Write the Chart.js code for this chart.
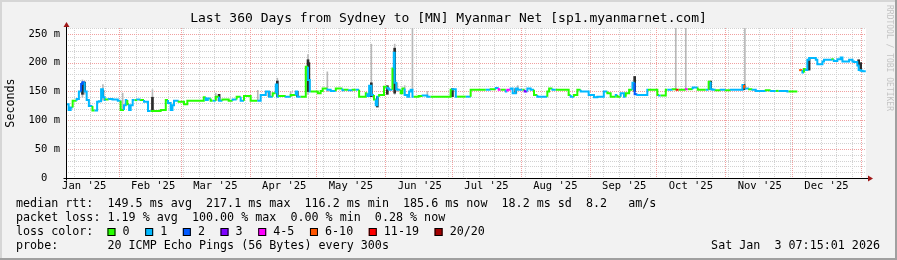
<!DOCTYPE html>
<html>
<head>
<meta charset="utf-8">
<script src="https://cdn.jsdelivr.net/npm/chart.js@4.4.1/dist/chart.umd.min.js"></script>
<style>
html, body { margin: 0; padding: 0; background: #f2f2f2; }
canvas { display: block; }
</style>
</head>
<body>
<canvas id="smoke" width="897" height="260"></canvas>
<script>
// x values are days since 1 Jan 2025 (window = last 360 days up to 3 Jan 2026 07:15)
const rangeStart = 7.3, rangeEnd = 367.3;
const monthStarts = [0, 31, 59, 90, 120, 151, 181, 212, 243, 273, 304, 334, 365];
const monthLabels = ["Jan '25", "Feb '25", "Mar '25", "Apr '25", "May '25", "Jun '25",
                     "Jul '25", "Aug '25", "Sep '25", "Oct '25", "Nov '25", "Dec '25"];
const yTicks = [0, 50, 100, 150, 200, 250];

// median rtt (ms) and loss class per sample
const medDays = [
  7.3, 8.5, 9.4, 10.3, 10.9, 12.1, 13.1, 14.1, 14.7, 15.7,
  16.6, 17.6, 19.2, 20.2, 21.3, 22.1, 23.1, 23.9, 24.7, 25.2,
  26.5, 28.2, 30.6, 31.9, 33.4, 34.2, 34.9, 35.7, 36.4, 37.3,
  38.2, 39.4, 40.9, 42.4, 44.2, 45.4, 47.7, 49.9, 52.2, 53.2,
  54.4, 55.2, 55.9, 56.7, 58.0, 60.4, 61.9, 63.4, 65.7, 67.9,
  69.3, 70.2, 71.1, 72.4, 73.3, 74.7, 76.2, 77.7, 80.5, 82.3,
  84.1, 85.9, 87.4, 88.2, 90.4, 93.4, 94.9, 97.2, 98.7, 99.4,
  100.3, 101.7, 102.4, 103.2, 106.2, 108.4, 110.7, 111.4, 112.9, 115.2,
  116.2, 117.0, 117.4, 120.6, 121.9, 122.8, 124.9, 126.4, 128.7, 131.7,
  132.7, 134.5, 136.3, 137.7, 139.2, 139.9, 142.2, 142.9, 143.7, 144.7,
  145.9, 146.7, 147.4, 148.2, 150.4, 151.9, 152.7, 154.2, 154.8, 155.2,
  155.9, 156.4, 157.9, 158.7, 159.7, 160.9, 161.7, 162.4, 163.2, 163.8,
  166.0, 167.8, 169.9, 171.4, 175.9, 180.4, 181.2, 182.7, 183.3, 187.2,
  189.4, 193.0, 196.2, 198.4, 200.7, 202.0, 202.9, 205.2, 205.9, 207.4,
  208.3, 209.7, 210.6, 212.7, 213.7, 214.9, 216.4, 217.9, 219.4, 220.9,
  223.9, 224.7, 226.2, 227.7, 233.5, 234.4, 235.9, 237.4, 238.9, 240.3,
  242.5, 244.9, 246.4, 247.9, 249.3, 250.9, 252.4, 253.2, 254.7, 255.4,
  256.9, 258.4, 259.2, 260.7, 262.2, 263.2, 264.4, 265.9, 268.9, 269.2,
  273.4, 274.2, 274.9, 277.2, 277.9, 280.3, 282.1, 283.0, 286.2, 287.1,
  289.3, 291.6, 292.5, 295.2, 296.5, 297.4, 298.2, 299.7, 301.9, 304.2,
  306.4, 308.7, 311.7, 312.4, 313.2, 314.7, 316.2, 317.7, 319.9, 322.2,
  324.4, 326.7, 328.0, 331.9, 332.5, 336.4, 336.8, 337.2, 338.7, 339.4,
  340.2, 340.9, 341.7, 342.9, 344.7, 345.4, 346.0, 347.7, 348.4, 349.2,
  352.2, 352.8, 354.4, 355.9, 356.7, 357.4, 359.7, 361.2, 361.9, 363.4,
  364.0, 364.9, 365.7, 367.2
];
const medVals = [
  138, 128, 118, 122, 134, 134, 137, 150, 163, 166,
  150, 135, 125, 117, 117, 132, 133, 154, 140, 135,
  136, 137, 136, 134, 118, 126, 135, 128, 118, 126,
  135, 135, 136, 135, 132, 116, 116, 116, 118, 135,
  130, 118, 126, 134, 134, 132, 128, 134, 134, 134,
  134, 140, 135, 138, 134, 134, 141, 134, 136, 134,
  136, 141, 134, 142, 142, 134, 134, 144, 150, 141,
  141, 147, 162, 141, 142, 141, 144, 150, 141, 141,
  193, 170, 150, 150, 147, 151, 155, 153, 151, 155,
  152, 153, 152, 153, 153, 141, 141, 147, 142, 160,
  144, 136, 126, 141, 144, 158, 155, 153, 190, 217,
  165, 154, 153, 147, 155, 144, 141, 150, 153, 141,
  141, 142, 143, 141, 141, 141, 153, 154, 141, 141,
  141, 153, 153, 153, 154, 156, 153, 153, 150, 153,
  155, 147, 155, 153, 153, 150, 155, 153, 144, 141,
  141, 150, 155, 153, 153, 144, 141, 144, 153, 150,
  150, 144, 140, 141, 141, 150, 147, 141, 141, 144,
  141, 147, 141, 147, 153, 165, 145, 144, 144, 153,
  153, 144, 143, 143, 153, 153, 154, 153, 153, 154,
  154, 157, 153, 153, 153, 167, 154, 153, 152, 153,
  152, 153, 153, 161, 157, 155, 154, 153, 151, 151,
  152, 151, 151, 151, 150, 150, null, 187, 187, 183,
  189, 187, 205, 208, 208, 205, 197, 197, 202, 205,
  205, 206, 203, 206, 209, 202, 202, 205, 202, 201,
  195, 187, 186, 185
];
const medLoss = [
  1, 1, 1, 0, 0, 1, 1, 2, 2, 1,
  1, 1, 0, 1, 1, 1, 1, 1, 1, 0,
  1, 1, 1, 0, 1, 1, 0, 1, 1, 1,
  0, 1, 0, 1, 1, 0, 0, 0, 0, 1,
  1, 1, 1, 1, 0, 0, 0, 0, 0, 0,
  0, 1, 1, 0, 1, 0, 1, 0, 0, 1,
  0, 1, 0, 0, 0, 1, 1, 1, 1, 1,
  0, 1, 1, 0, 1, 0, 1, 1, 0, 0,
  1, 1, 0, 0, 0, 0, 1, 1, 0, 1,
  0, 1, 0, 1, 0, 0, 0, 1, 1, 1,
  0, 1, 1, 0, 0, 1, 1, 0, 1, 1,
  1, 1, 0, 0, 1, 1, 1, 1, 1, 0,
  0, 1, 1, 0, 0, 0, 1, 1, 0, 1,
  0, 0, 1, 0, 1, 4, 0, 1, 4, 1,
  1, 1, 1, 0, 3, 1, 1, 0, 1, 1,
  0, 0, 1, 0, 0, 1, 0, 0, 1, 1,
  1, 1, 1, 1, 1, 0, 0, 0, 1, 0,
  1, 1, 0, 0, 1, 2, 1, 1, 1, 0,
  0, 1, 0, 0, 1, 0, 6, 0, 4, 0,
  1, 0, 0, 1, 0, 1, 1, 0, 1, 0,
  1, 1, 1, 5, 1, 0, 1, 1, 1, 0,
  1, 0, 1, 1, 0, 0, 0, 5, 1, 0,
  1, 1, 1, 1, 1, 1, 1, 1, 1, 1,
  0, 1, 1, 1, 1, 1, 1, 1, 1, 1,
  1, 1, 1, 1
];

// sparse smoke (ping spread), light outer range
const smokeDays = [14.7, 15.7, 23.9, 32.8, 46.2, 74.7, 93.6, 102.4, 108.4, 116.2, 124.9,
                   144.7, 155.2, 156.4, 159.7, 163.2, 169.9, 210.6, 281.7, 286.2, 312.8];
const smokeLo = [140, 145, 135, 118, 116, 134, 134, 141, 141, 145, 150,
                 141, 145, 150, 144, 153, 141, 153, 153, 153, 157];
const smokeHi = [170, 168, 162, 147, 153, 147, 152, 173, 150, 214, 184,
                 232, 232, 165, 160, 260, 150, 160, 260, 260, 260];
// dense smoke core
const coreDays = [14.7, 15.7, 23.9, 46.2, 76.2, 98.7, 102.4, 111.4, 116.2, 116.6, 144.7,
                  147.4, 151.9, 155.2, 181.2, 209.7, 263.2, 297.4, 312.4, 341.7, 364.0, 364.9];
const coreLo = [145, 150, 140, 116, 134, 141, 141, 141, 150, 150, 141,
                123, 145, 147, 141, 147, 150, 153, 153, 187, 195, 186];
const coreHi = [165, 166, 152, 140, 145, 150, 168, 150, 205, 200, 165,
                141, 160, 225, 155, 155, 176, 168, 162, 206, 205, 200];

const lossColors = ['#26ff00', '#00b8ff', '#0059ff', '#7e00ff', '#ff00ff', '#ff5500', '#ff0000', '#a10000'];
const lossLabels = ['0', '1', '2', '3', '4-5', '6-10', '11-19', '20/20'];

const titleText = 'Last 360 Days from Sydney to [MN] Myanmar Net [sp1.myanmarnet.com]';
const legendRows = [
    'median rtt:  149.5 ms avg  217.1 ms max  116.2 ms min  185.6 ms now  18.2 ms sd  8.2   am/s',
    'packet loss: 1.19 % avg  100.00 % max  0.00 % min  0.28 % now',
    'loss color:  ',
    'probe:       20 ICMP Echo Pings (56 Bytes) every 300s'
];
const stampText = 'Sat Jan  3 07:15:01 2026';

const MONO = "'DejaVu Sans Mono', monospace";

const rrdLook = {
    id: 'rrdLook',
    beforeDraw(chart) {
        const {ctx, width, height, chartArea: a} = chart;
        ctx.save();
        ctx.fillStyle = '#f2f2f2';
        ctx.fillRect(0, 0, width, height);
        ctx.fillStyle = '#d6d6d6';
        ctx.fillRect(0, 0, width, 2);
        ctx.fillRect(0, 0, 2, height);
        ctx.fillStyle = '#a0a0a0';
        ctx.fillRect(0, height - 2, width, 2);
        ctx.fillRect(width - 2, 0, 2, height);
        ctx.fillStyle = '#ffffff';
        ctx.fillRect(a.left, a.top, a.right - a.left, a.bottom - a.top);
        ctx.restore();
    },
    beforeDatasetsDraw(chart) {
        const {ctx, chartArea: a, scales: {x, y}} = chart;
        const seg = (x1, y1, x2, y2) => {
            ctx.beginPath();
            ctx.moveTo(x1, y1);
            ctx.lineTo(x2, y2);
            ctx.stroke();
        };
        ctx.save();
        ctx.lineWidth = 1;
        ctx.setLineDash([1, 1]);
        // minor grid: every 10 ms, every week (Sundays)
        ctx.strokeStyle = '#d2d2d2';
        for (let v = 10; v <= 260; v += 10) {
            if (v % 50 === 0) continue;
            const py = Math.round(y.getPixelForValue(v)) + 0.5;
            seg(a.left, py, a.right, py);
        }
        for (let d = 4; d <= rangeEnd; d += 7) {
            if (d <= rangeStart) continue;
            const px = Math.round(x.getPixelForValue(d)) + 0.5;
            seg(px, a.top, px, a.bottom);
        }
        // major grid: 50 ms, month starts
        ctx.strokeStyle = '#f0a0a0';
        for (let v = 50; v <= 250; v += 50) {
            const py = Math.round(y.getPixelForValue(v)) + 0.5;
            seg(a.left, py, a.right, py);
        }
        monthStarts.forEach(d => {
            if (d <= rangeStart || d >= rangeEnd) return;
            const px = Math.round(x.getPixelForValue(d)) + 0.5;
            seg(px, a.top, px, a.bottom);
        });
        ctx.restore();
    },
    afterDatasetsDraw(chart) {
        const {ctx, chartArea: a} = chart;
        const ax = Math.round(a.left) + 0.5;
        const ay = Math.round(a.bottom) + 0.5;
        ctx.save();
        ctx.strokeStyle = '#000';
        ctx.lineWidth = 1;
        ctx.beginPath();
        ctx.moveTo(ax, ay + 2);
        ctx.lineTo(ax, a.top - 2);
        ctx.moveTo(ax - 3, ay);
        ctx.lineTo(a.right + 3, ay);
        ctx.stroke();
        ctx.fillStyle = '#a01818';
        ctx.beginPath();
        ctx.moveTo(ax - 3, a.top - 1);
        ctx.lineTo(ax + 3, a.top - 1);
        ctx.lineTo(ax, a.top - 6);
        ctx.closePath();
        ctx.fill();
        ctx.beginPath();
        ctx.moveTo(a.right + 2, ay - 3);
        ctx.lineTo(a.right + 2, ay + 3);
        ctx.lineTo(a.right + 7, ay);
        ctx.closePath();
        ctx.fill();
        ctx.restore();
    },
    afterDraw(chart) {
        const {ctx, width} = chart;
        ctx.save();
        ctx.fillStyle = '#000';
        ctx.textBaseline = 'middle';
        ctx.font = '13px ' + MONO;
        ctx.textAlign = 'center';
        ctx.fillText(titleText, width / 2, 18.5);

        ctx.font = '11.7px ' + MONO;
        ctx.textAlign = 'left';
        const rowY = [204, 218, 232, 246];
        legendRows.forEach((t, i) => ctx.fillText(t, 16, rowY[i]));
        ctx.textAlign = 'right';
        ctx.fillText(stampText, 880, rowY[3]);

        // loss colour boxes
        ctx.textAlign = 'left';
        const cw = ctx.measureText('0').width;
        let bx = 16 + ctx.measureText(legendRows[2]).width;
        lossLabels.forEach((lab, i) => {
            ctx.fillStyle = lossColors[i];
            ctx.fillRect(bx, rowY[2] - 4, 8, 8);
            ctx.strokeStyle = '#000';
            ctx.lineWidth = 1;
            ctx.strokeRect(bx + 0.5, rowY[2] - 3.5, 7, 7);
            ctx.fillStyle = '#000';
            const lx = bx + 2 * cw + 1;
            ctx.fillText(lab, lx, rowY[2]);
            bx = lx + ctx.measureText(lab).width + 2 * cw + 1.5;
        });

        // watermark
        ctx.fillStyle = '#c4c4c4';
        ctx.font = '8px ' + MONO;
        ctx.translate(889, 5);
        ctx.rotate(Math.PI / 2);
        ctx.fillText('RRDTOOL / TOBI OETIKER', 0, 0);
        ctx.restore();
    }
};

const medianPoints = medDays.map((d, i) => ({x: d, y: medVals[i]}));
const smokePoints = smokeDays.map((d, i) => ({x: d, y: [smokeLo[i], smokeHi[i]]}));
const corePoints = coreDays.map((d, i) => ({x: d, y: [coreLo[i], coreHi[i]]}));

const tickFont = {family: MONO, size: 10.5};

new Chart(document.getElementById('smoke'), {
    type: 'line',
    data: {
        datasets: [
            {
                type: 'line',
                data: medianPoints,
                stepped: 'after',
                borderWidth: 2,
                borderColor: lossColors[0],
                pointRadius: 0,
                spanGaps: false,
                segment: {
                    borderColor: c => lossColors[medLoss[c.p0DataIndex]]
                },
                order: 0
            },
            {
                type: 'bar',
                data: corePoints,
                backgroundColor: '#2b2b2b',
                barThickness: 2,
                grouped: false,
                order: 1
            },
            {
                type: 'bar',
                data: smokePoints,
                backgroundColor: '#b8b8b8',
                barThickness: 1,
                grouped: false,
                order: 2
            }
        ]
    },
    options: {
        responsive: false,
        animation: false,
        devicePixelRatio: 1,
        layout: {padding: {top: 28, right: 31, left: 0, bottom: 0}},
        plugins: {
            legend: {display: false},
            tooltip: {enabled: false}
        },
        scales: {
            x: {
                type: 'linear',
                min: rangeStart,
                max: rangeEnd,
                offset: false,
                grid: {display: false, drawTicks: false},
                border: {display: false},
                afterBuildTicks: s => {
                    s.ticks = monthStarts.slice(0, 12).map(d => ({value: d + 15.5}));
                },
                ticks: {
                    autoSkip: false,
                    maxRotation: 0,
                    padding: 2,
                    color: '#000',
                    font: tickFont,
                    callback: (v, i) => monthLabels[i]
                },
                afterFit: s => { s.height = 82; }
            },
            y: {
                type: 'linear',
                min: 0,
                max: 260,
                grid: {display: false, drawTicks: false},
                border: {display: false},
                afterBuildTicks: s => {
                    s.ticks = yTicks.map(v => ({value: v}));
                },
                ticks: {
                    padding: 6,
                    color: '#000',
                    font: tickFont,
                    callback: v => v === 0 ? '0  ' : v + ' m'
                },
                title: {
                    display: true,
                    text: 'Seconds',
                    color: '#000',
                    font: {family: MONO, size: 11.7},
                    padding: {top: 4, bottom: 0}
                },
                afterFit: s => { s.width = 66; }
            }
        }
    },
    plugins: [rrdLook]
});
</script>
</body>
</html>
